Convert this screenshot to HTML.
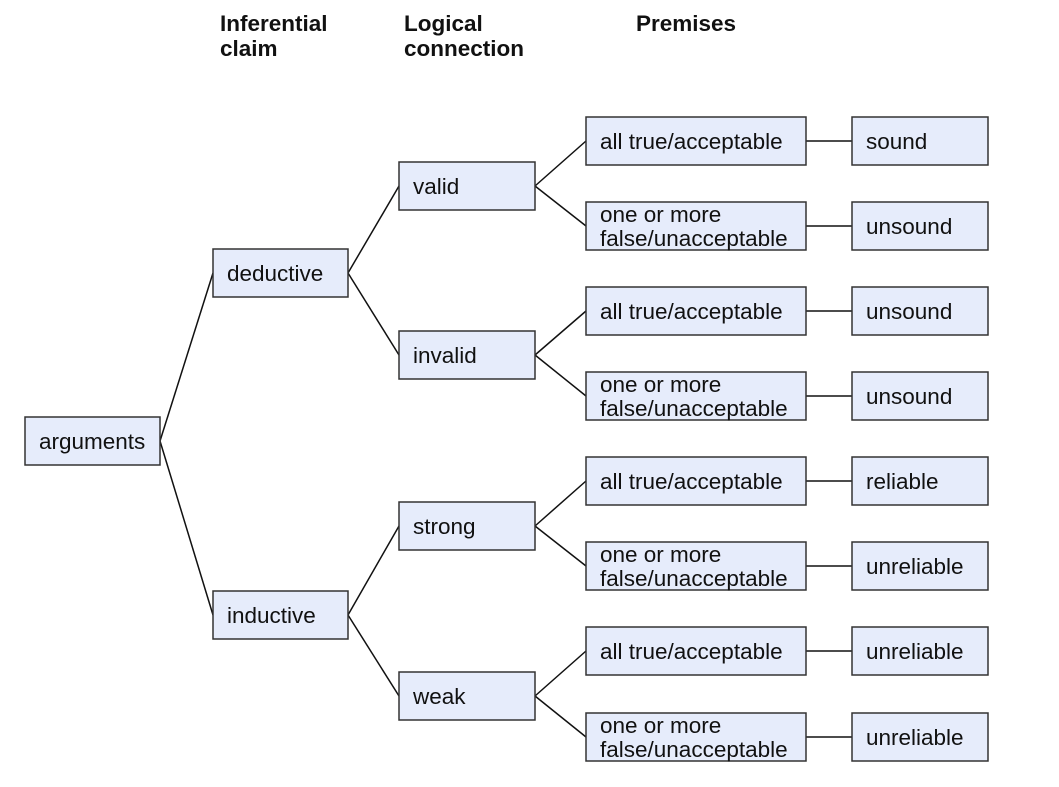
<!DOCTYPE html>
<html><head><meta charset="utf-8"><style>
html,body{margin:0;padding:0;background:#fff;}
svg{display:block;}
text{font-family:"Liberation Sans",Arial,sans-serif;font-size:22.5px;fill:#111;}
.h{font-weight:bold;}
rect{fill:#e6ecfb;stroke:#333;stroke-width:1.5;}
line{stroke:#111;stroke-width:1.5;}
</style></head><body>
<svg width="1059" height="787" viewBox="0 0 1059 787">
<text class="h" x="220" y="31">Inferential</text>
<text class="h" x="220" y="56">claim</text>
<text class="h" x="404" y="31">Logical</text>
<text class="h" x="404" y="56">connection</text>
<text class="h" x="636" y="31">Premises</text>

<line x1="160" y1="441" x2="213" y2="273"/>
<line x1="160" y1="441" x2="213" y2="615"/>
<line x1="348" y1="273" x2="399" y2="186"/>
<line x1="348" y1="273" x2="399" y2="355"/>
<line x1="348" y1="615" x2="399" y2="526"/>
<line x1="348" y1="615" x2="399" y2="696"/>

<line x1="535" y1="186" x2="586" y2="141"/>
<line x1="535" y1="186" x2="586" y2="226"/>
<line x1="535" y1="355" x2="586" y2="311"/>
<line x1="535" y1="355" x2="586" y2="396"/>
<line x1="535" y1="526" x2="586" y2="481"/>
<line x1="535" y1="526" x2="586" y2="566"/>
<line x1="535" y1="696" x2="586" y2="651"/>
<line x1="535" y1="696" x2="586" y2="737"/>

<line x1="806" y1="141" x2="852" y2="141"/>
<line x1="806" y1="226" x2="852" y2="226"/>
<line x1="806" y1="311" x2="852" y2="311"/>
<line x1="806" y1="396" x2="852" y2="396"/>
<line x1="806" y1="481" x2="852" y2="481"/>
<line x1="806" y1="566" x2="852" y2="566"/>
<line x1="806" y1="651" x2="852" y2="651"/>
<line x1="806" y1="737" x2="852" y2="737"/>

<rect x="25" y="417" width="135" height="48"/><text x="39" y="449">arguments</text>
<rect x="213" y="249" width="135" height="48"/><text x="227" y="281">deductive</text>
<rect x="213" y="591" width="135" height="48"/><text x="227" y="623">inductive</text>
<rect x="399" y="162" width="136" height="48"/><text x="413" y="194">valid</text>
<rect x="399" y="331" width="136" height="48"/><text x="413" y="363">invalid</text>
<rect x="399" y="502" width="136" height="48"/><text x="413" y="534">strong</text>
<rect x="399" y="672" width="136" height="48"/><text x="413" y="704">weak</text>

<rect x="586" y="117" width="220" height="48"/><text x="600" y="149">all true/acceptable</text>
<rect x="586" y="202" width="220" height="48"/><text x="600" y="222">one or more</text><text x="600" y="246">false/unacceptable</text>
<rect x="586" y="287" width="220" height="48"/><text x="600" y="319">all true/acceptable</text>
<rect x="586" y="372" width="220" height="48"/><text x="600" y="392">one or more</text><text x="600" y="416">false/unacceptable</text>
<rect x="586" y="457" width="220" height="48"/><text x="600" y="489">all true/acceptable</text>
<rect x="586" y="542" width="220" height="48"/><text x="600" y="562">one or more</text><text x="600" y="586">false/unacceptable</text>
<rect x="586" y="627" width="220" height="48"/><text x="600" y="659">all true/acceptable</text>
<rect x="586" y="713" width="220" height="48"/><text x="600" y="733">one or more</text><text x="600" y="757">false/unacceptable</text>

<rect x="852" y="117" width="136" height="48"/><text x="866" y="149">sound</text>
<rect x="852" y="202" width="136" height="48"/><text x="866" y="234">unsound</text>
<rect x="852" y="287" width="136" height="48"/><text x="866" y="319">unsound</text>
<rect x="852" y="372" width="136" height="48"/><text x="866" y="404">unsound</text>
<rect x="852" y="457" width="136" height="48"/><text x="866" y="489">reliable</text>
<rect x="852" y="542" width="136" height="48"/><text x="866" y="574">unreliable</text>
<rect x="852" y="627" width="136" height="48"/><text x="866" y="659">unreliable</text>
<rect x="852" y="713" width="136" height="48"/><text x="866" y="745">unreliable</text>
</svg>
</body></html>
